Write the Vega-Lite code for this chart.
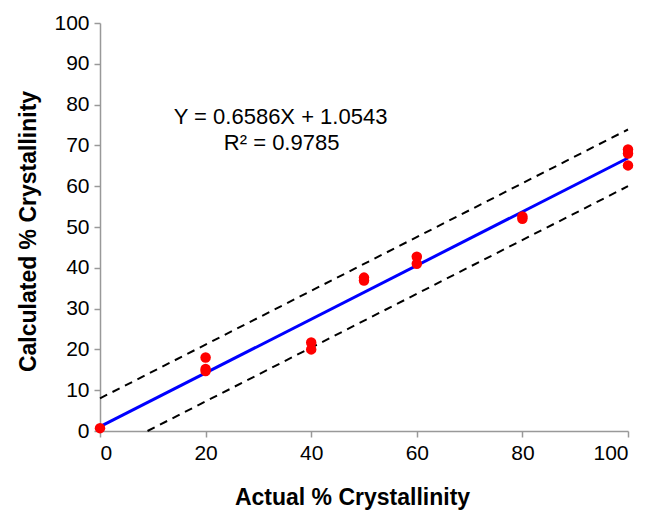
{
  "$schema": "https://vega.github.io/schema/vega-lite/v6.json",
  "width": 528,
  "height": 408,
  "autosize": {"type": "none"},
  "padding": {"left": 100, "top": 23, "right": 21, "bottom": 80},
  "background": "white",
  "config": {
    "view": {"stroke": null},
    "font": "Liberation Sans",
    "axis": {
      "grid": false,
      "domainColor": "#999999",
      "domainWidth": 1.5,
      "tickColor": "#999999",
      "tickWidth": 1.5,
      "tickSize": 6,
      "labelFont": "Liberation Sans",
      "labelFontSize": 21,
      "labelColor": "black",
      "labelPadding": 5,
      "titleFont": "Liberation Sans",
      "titleFontSize": 23,
      "titleFontWeight": "bold",
      "titleColor": "black"
    }
  },
  "datasets": {
    "points": [
      {"actual": 0, "calc": 0.7},
      {"actual": 20, "calc": 18.0},
      {"actual": 20, "calc": 15.2},
      {"actual": 20, "calc": 14.7},
      {"actual": 40, "calc": 21.7},
      {"actual": 40, "calc": 20.0},
      {"actual": 50, "calc": 37.6},
      {"actual": 50, "calc": 36.9},
      {"actual": 60, "calc": 42.7},
      {"actual": 60, "calc": 41.0},
      {"actual": 80, "calc": 52.6},
      {"actual": 80, "calc": 52.0},
      {"actual": 100, "calc": 69.0},
      {"actual": 100, "calc": 68.0},
      {"actual": 100, "calc": 65.1}
    ],
    "fit": [
      {"actual": 0, "calc": 1.0543},
      {"actual": 100, "calc": 66.9143}
    ],
    "upper": [
      {"actual": 0, "calc": 8.0},
      {"actual": 100, "calc": 73.9}
    ],
    "lower": [
      {"actual": 9, "calc": 0},
      {"actual": 100, "calc": 60.0}
    ],
    "labels": [
      {"actual": 34.2, "calc": 77.0, "text": "Y = 0.6586X + 1.0543"},
      {"actual": 34.4, "calc": 70.6, "text": "R² = 0.9785"}
    ]
  },
  "layer": [
    {
      "data": {"name": "upper"},
      "mark": {"type": "line", "color": "black", "strokeWidth": 2, "strokeDash": [8, 6]},
      "encoding": {
        "x": {"field": "actual", "type": "quantitative", "scale": {"domain": [0, 100]}, "axis": {"values": [0, 20, 40, 60, 80, 100], "title": "Actual % Crystallinity", "titleX": 252, "titleY": 66, "titleBaseline": "middle"}},
        "y": {"field": "calc", "type": "quantitative", "scale": {"domain": [0, 100]}, "axis": {"values": [0, 10, 20, 30, 40, 50, 60, 70, 80, 90, 100], "title": "Calculated % Crystallinity", "titleX": -72, "titleY": 208, "titleBaseline": "middle"}}
      }
    },
    {
      "data": {"name": "lower"},
      "mark": {"type": "line", "color": "black", "strokeWidth": 2, "strokeDash": [8, 6]},
      "encoding": {
        "x": {"field": "actual", "type": "quantitative"},
        "y": {"field": "calc", "type": "quantitative"}
      }
    },
    {
      "data": {"name": "fit"},
      "mark": {"type": "line", "color": "#0000ff", "strokeWidth": 3},
      "encoding": {
        "x": {"field": "actual", "type": "quantitative"},
        "y": {"field": "calc", "type": "quantitative"}
      }
    },
    {
      "data": {"name": "points"},
      "mark": {"type": "point", "filled": true, "shape": "circle", "color": "#ff0000", "opacity": 1, "size": 110},
      "encoding": {
        "x": {"field": "actual", "type": "quantitative"},
        "y": {"field": "calc", "type": "quantitative"}
      }
    },
    {
      "data": {"name": "labels"},
      "mark": {"type": "text", "fontSize": 22, "font": "Liberation Sans", "color": "black", "align": "center", "baseline": "middle"},
      "encoding": {
        "x": {"field": "actual", "type": "quantitative"},
        "y": {"field": "calc", "type": "quantitative"},
        "text": {"field": "text"}
      }
    }
  ]
}
